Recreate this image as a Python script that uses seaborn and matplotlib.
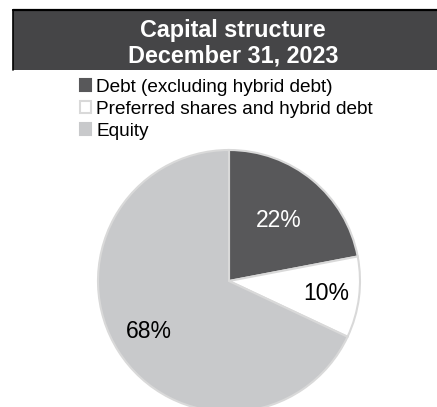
import numpy as np
import matplotlib
matplotlib.use("Agg")
import matplotlib.pyplot as plt
from matplotlib.patches import Rectangle, Patch
from matplotlib.lines import Line2D
import seaborn as sns

categories = ["Debt (excluding hybrid debt)", "Preferred shares and hybrid debt", "Equity"]
values = [22, 10, 68]
pct_labels = ["22%", "10%", "68%"]
title_lines = ["Capital structure", "December 31, 2023"]

colors = ["#58585a", "#ffffff", "#c8c9cb"]
label_colors = ["white", "black", "black"]
label_dist = [0.60, 0.75, 0.72]

sns.set_theme(style="white")
plt.rcParams["font.family"] = ["Liberation Sans", "DejaVu Sans"]
plt.rcParams["text.color"] = "black"

W, H = 437, 407
fig = plt.figure(figsize=(W / 100, H / 100), dpi=100)

# title box
x0, y0, y1 = 13 / W, (H - 70) / H, (H - 10) / H
fig.patches.append(Rectangle((x0, y0), 1.2, y1 - y0, transform=fig.transFigure,
                             facecolor="#454547", edgecolor="none", zorder=0))
fig.add_artist(Line2D([x0, 1.0], [y1, y1], transform=fig.transFigure,
                      color="#000000", linewidth=1.6))
fig.add_artist(Line2D([x0, x0], [y0, y1], transform=fig.transFigure,
                      color="#000000", linewidth=1.2))
fig.text(233 / W, (H - 31) / H, title_lines[0], ha="center", va="center",
         color="white", fontsize=16.8, fontweight="bold")
fig.text(233 / W, (H - 56) / H, title_lines[1], ha="center", va="center",
         color="white", fontsize=16.8, fontweight="bold")

# pie
cx, cy, r = 229, 281, 131
ax = fig.add_axes([(cx - r) / W, (H - cy - r) / H, 2 * r / W, 2 * r / H])
wedges, _ = ax.pie(values, colors=colors, startangle=90, counterclock=False,
                   radius=1.0, wedgeprops=dict(edgecolor="#d9d9d9", linewidth=1.5))
ax.set_xlim(-1, 1)
ax.set_ylim(-1, 1)
ax.set_aspect("equal")
ax.axis("off")

cum = np.cumsum([0] + values)
total = float(sum(values))
for i, lab in enumerate(pct_labels):
    mid = 90 - (cum[i] + values[i] / 2) / total * 360
    a = np.deg2rad(mid)
    ax.text(label_dist[i] * np.cos(a), label_dist[i] * np.sin(a), lab,
            ha="center", va="center", fontsize=16.5, color=label_colors[i])

# legend
handles = [Patch(facecolor=c, edgecolor=("#d9d9d9" if c == "#ffffff" else c), linewidth=1.5)
           for c in colors]
fig.legend(handles, categories, loc="upper left",
           bbox_to_anchor=(80 / W, (H - 79) / H), frameon=False,
           fontsize=13.7, handlelength=0.6, handleheight=0.6,
           handletextpad=0.25, labelspacing=0.26, borderpad=0, borderaxespad=0,
           labelcolor="black")

fig.savefig("out.png", dpi=100)
